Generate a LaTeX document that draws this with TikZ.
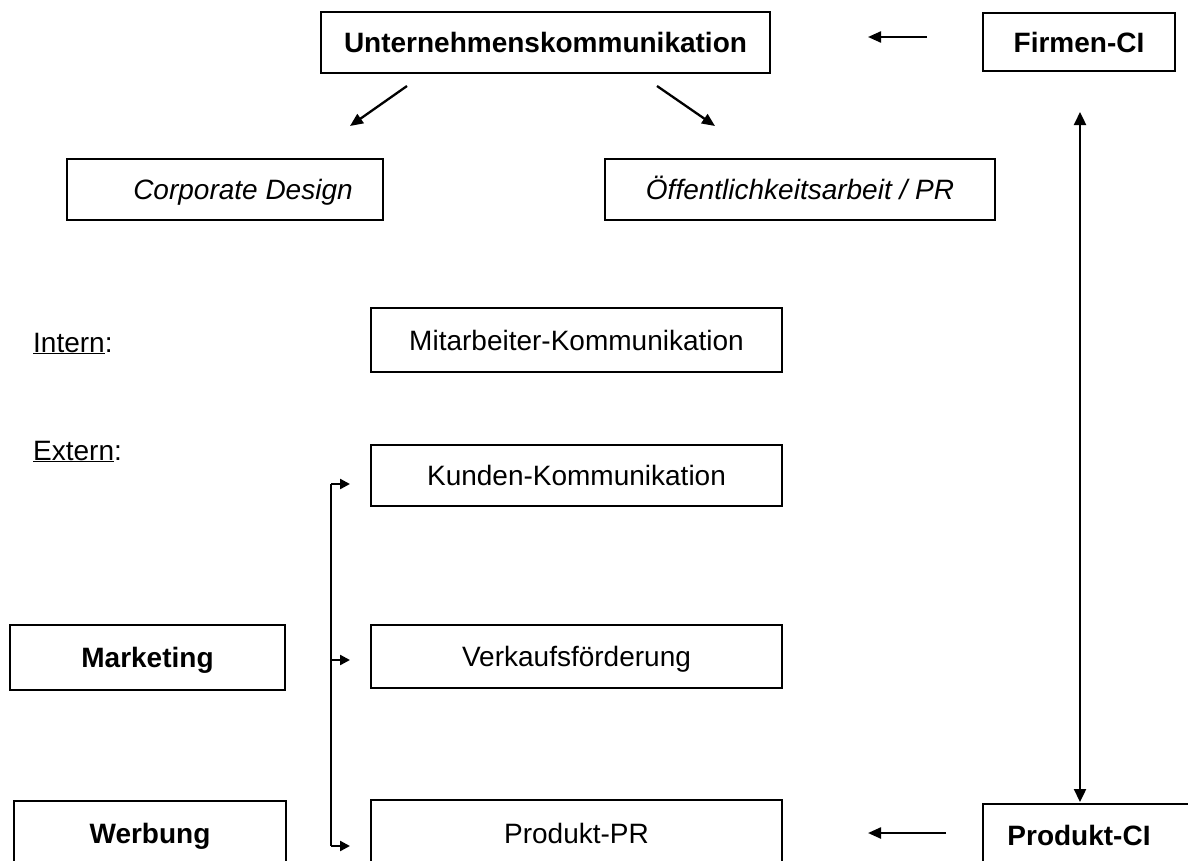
\documentclass[tikz,border=0pt]{standalone}
\usepackage{fontspec}
\setmainfont{Liberation Sans}
\usetikzlibrary{arrows.meta}
\tikzset{
  box/.style={draw, line width=2.8pt, inner sep=0pt, text height=20pt, text depth=0pt, font=\fontsize{28}{32}\selectfont},
  lbl/.style={inner sep=0pt, anchor=west, text height=20pt, text depth=0pt, font=\fontsize{28}{32}\selectfont},
  arr/.style={line width=2.3pt, -{Triangle[length=13pt,width=11pt]}},
  darr/.style={line width=2.3pt, {Triangle[length=13pt,width=12pt]}-{Triangle[length=13pt,width=12pt]}},
  barr/.style={line width=2.3pt, -{Triangle[length=10pt,width=10pt]}}
}
\begin{document}
\begin{tikzpicture}[x=1pt,y=-1pt]
\useasboundingbox (0,0) rectangle (1188,860);
% boxes
\node[box, minimum width=449pt, minimum height=61pt] (u) at (545.5,42.5) {\bfseries Unternehmenskommunikation};
\node[box, minimum width=192pt, minimum height=58pt] (fci) at (1079,42) {\bfseries Firmen-CI};
\node[box, minimum width=316pt, minimum height=61pt] (cd) at (225,189.5) {\hspace*{36pt}\itshape Corporate Design};
\node[box, minimum width=390pt, minimum height=61pt] (oe) at (800,189.5) {\itshape Öffentlichkeitsarbeit / PR};
\node[box, minimum width=411pt, minimum height=64pt] (mk) at (576.5,340) {Mitarbeiter-Kommunikation};
\node[box, minimum width=411pt, minimum height=61pt] (kk) at (576.5,475.5) {Kunden-Kommunikation};
\node[box, minimum width=411pt, minimum height=63pt] (vf) at (576.5,656.5) {Verkaufsförderung};
\node[box, minimum width=411pt, minimum height=66pt] (ppr) at (576.5,833) {Produkt-PR};
\node[box, minimum width=275pt, minimum height=65pt] (mkt) at (147.5,657.5) {\bfseries Marketing};
\node[box, minimum width=272pt, minimum height=65pt] (wb) at (150,833.5) {\bfseries Werbung};
\node[box, minimum width=217pt, minimum height=62pt] (pci) at (1091.5,835) {\bfseries Produkt-CI\hspace*{25pt}};
% labels
\node[lbl] (intern) at (33,342) {\underline{Intern}:};
\node[lbl] (extern) at (33,450) {\underline{Extern}:};
% connector end points
\coordinate (f1) at (927,37);
\coordinate (f2) at (868,37);
\coordinate (l1) at (407,86);
\coordinate (l2) at (350,126);
\coordinate (r1) at (657,86);
\coordinate (r2) at (715,126);
\coordinate (v1) at (1080,112);
\coordinate (v2) at (1080,802);
\coordinate (p1) at (946,833);
\coordinate (p2) at (868,833);
\coordinate (bt) at (331,484);
\coordinate (bm) at (331,660);
\coordinate (bb) at (331,846);
\coordinate (bta) at (350,484);
\coordinate (bma) at (350,660);
\coordinate (bba) at (350,846);
% connectors
\draw[arr] (f1) -- (f2);
\draw[arr] (l1) -- (l2);
\draw[arr] (r1) -- (r2);
\draw[darr] (v1) -- (v2);
\draw[arr] (p1) -- (p2);
\draw[line width=2.3pt] (bt) -- (bb);
\draw[barr] (bt) -- (bta);
\draw[barr] (bm) -- (bma);
\draw[barr] (bb) -- (bba);
\end{tikzpicture}
\end{document}
